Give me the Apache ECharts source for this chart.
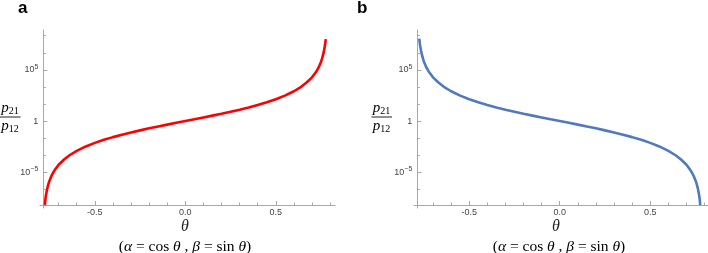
<!DOCTYPE html>
<html><head><meta charset="utf-8">
<script src="https://cdn.jsdelivr.net/npm/echarts@6/dist/echarts.min.js"></script>
<style>html,body{margin:0;padding:0;background:#fff}#c{width:708px;height:253px}</style>
</head><body><div id="c"></div>
<script>
// Panel a: theta vs log10(p21/p12)
const thetaA = [-0.776, -0.773, -0.770, -0.765, -0.760, -0.755, -0.750, -0.740, -0.730, -0.720,
  -0.700, -0.670, -0.640, -0.600, -0.550, -0.500, -0.450, -0.400, -0.350, -0.300,
  -0.250, -0.200, -0.150, -0.100, -0.050, 0, 0.050, 0.100, 0.150, 0.200,
  0.250, 0.300, 0.350, 0.400, 0.450, 0.500, 0.550, 0.600, 0.640, 0.670,
  0.700, 0.720, 0.730, 0.740, 0.750, 0.755, 0.760, 0.765, 0.770, 0.773, 0.776];
const log10RatioA = [-8.20, -7.60, -7.25, -6.75, -6.38, -6.07, -5.80, -5.37, -5.02, -4.74,
  -4.27, -3.76, -3.34, -2.91, -2.48, -2.13, -1.83, -1.57, -1.33, -1.11,
  -0.91, -0.71, -0.53, -0.35, -0.17, 0, 0.17, 0.35, 0.53, 0.71,
  0.91, 1.11, 1.33, 1.57, 1.83, 2.13, 2.48, 2.91, 3.34, 3.76,
  4.27, 4.74, 5.02, 5.37, 5.80, 6.07, 6.38, 6.75, 7.25, 7.60, 8.00];
// Panel b
const thetaB = [-0.776, -0.773, -0.770, -0.765, -0.760, -0.755, -0.750, -0.740, -0.730, -0.720,
  -0.700, -0.670, -0.640, -0.600, -0.550, -0.500, -0.450, -0.400, -0.350, -0.300,
  -0.250, -0.200, -0.150, -0.100, -0.050, 0, 0.050, 0.100, 0.150, 0.200,
  0.250, 0.300, 0.350, 0.400, 0.450, 0.500, 0.550, 0.600, 0.640, 0.670,
  0.700, 0.720, 0.730, 0.740, 0.750, 0.755, 0.760, 0.765, 0.770, 0.773, 0.776];
const log10RatioB = [8.05, 7.60, 7.25, 6.75, 6.38, 6.07, 5.80, 5.37, 5.02, 4.74,
  4.27, 3.76, 3.34, 2.91, 2.48, 2.13, 1.83, 1.57, 1.33, 1.11,
  0.91, 0.71, 0.53, 0.35, 0.17, 0, -0.17, -0.35, -0.53, -0.71,
  -0.91, -1.11, -1.33, -1.57, -1.83, -2.13, -2.48, -2.91, -3.34, -3.76,
  -4.27, -4.74, -5.02, -5.37, -5.80, -6.07, -6.38, -6.75, -7.25, -7.60, -8.20];

const xMajorTicks = [-0.5, 0, 0.5];
const xMajorLabels = ['-0.5', '0.0', '0.5'];
const xMinorTicks = [-0.7, -0.6, -0.4, -0.3, -0.2, -0.1, 0.1, 0.2, 0.3, 0.4, 0.6, 0.7, 0.8];
const yMajorTicks = [-5, 0, 5];
const yMajorLabels = ['{b|10}{s|\u22125}', '{b|1}', '{b|10}{s|5}'];
const yMinorTicks = [-20/3, -10/3, -5/3, 5/3, 10/3, 20/3, 25/3];

const axisColor = '#a8a8a8';
const labelColor = '#444';
const serif = '"Liberation Serif", "DejaVu Serif", serif';
const sans = '"Liberation Sans", Arial, sans-serif';

const panels = [
  {left: 40, width: 295, xmin: -0.803, xmax: 0.827},
  {left: 414, width: 294, xmin: -0.805, xmax: 0.819}
];
const yMin = -8.49, yMax = 8.89;

const xAxes = [], yAxes = [], grids = [];
panels.forEach((p, gi) => {
  grids.push({left: p.left, top: 30, width: p.width, height: 178, containLabel: false});
  xAxes.push({
    gridIndex: gi, type: 'value', position: 'bottom', min: p.xmin, max: p.xmax, offset: -3,
    axisLine: {show: true, onZero: false, lineStyle: {color: axisColor, width: 1}},
    axisTick: {show: true, inside: true, length: 4, lineStyle: {color: axisColor}, customValues: xMajorTicks},
    axisLabel: {show: true, margin: 3, fontSize: 9, color: labelColor, fontFamily: sans, customValues: xMajorTicks,
      formatter: v => xMajorLabels[xMajorTicks.findIndex(t => Math.abs(t - v) < 1e-9)]},
    splitLine: {show: false}
  });
  xAxes.push({
    gridIndex: gi, type: 'value', position: 'bottom', min: p.xmin, max: p.xmax, offset: -3,
    axisLine: {show: false, onZero: false},
    axisTick: {show: true, inside: true, length: 2.5, lineStyle: {color: axisColor}, customValues: xMinorTicks},
    axisLabel: {show: false},
    splitLine: {show: false}
  });
  yAxes.push({
    gridIndex: gi, type: 'value', position: 'left', min: yMin, max: yMax, offset: -3.3,
    axisLine: {show: true, onZero: false, lineStyle: {color: axisColor, width: 1}},
    axisTick: {show: true, inside: true, length: 4, lineStyle: {color: axisColor}, customValues: yMajorTicks},
    axisLabel: {show: true, margin: 5, color: labelColor, fontFamily: sans, customValues: yMajorTicks,
      formatter: v => yMajorLabels[yMajorTicks.findIndex(t => Math.abs(t - v) < 1e-9)],
      rich: {
        b: {fontSize: 9, color: labelColor, fontFamily: sans, verticalAlign: 'middle'},
        s: {fontSize: 7, color: labelColor, fontFamily: sans, verticalAlign: 'bottom', padding: [0, 0, 6, 0]}
      }},
    splitLine: {show: false}
  });
  yAxes.push({
    gridIndex: gi, type: 'value', position: 'left', min: yMin, max: yMax, offset: -3.3,
    axisLine: {show: false, onZero: false},
    axisTick: {show: true, inside: true, length: 2.5, lineStyle: {color: axisColor}, customValues: yMinorTicks},
    axisLabel: {show: false},
    splitLine: {show: false}
  });
});

const fracRich = {
  p: {fontSize: 15, fontStyle: 'italic', fontFamily: serif, color: '#222'},
  s: {fontSize: 10, fontFamily: serif, color: '#222', padding: [6, 0, 0, 0]}
};
const capRich = {
  n: {fontSize: 15.5, fontFamily: serif, color: '#222'},
  i: {fontSize: 15.5, fontFamily: serif, fontStyle: 'italic', color: '#222'}
};
const caption = '{n|(}{i|\u03b1}{n| = cos }{i|\u03b8}{n| , }{i|\u03b2}{n| = sin }{i|\u03b8}{n|)}';

function fraction(cx, cy) {
  return {
    type: 'group', x: cx, y: cy, children: [
      {type: 'line', shape: {x1: -10, y1: 0, x2: 10.5, y2: 0}, style: {stroke: '#222', lineWidth: 1}},
      {type: 'text', x: 0, y: -1, style: {text: '{p|p}{s|21}', rich: fracRich, align: 'center', verticalAlign: 'bottom'}},
      {type: 'text', x: 0, y: 1, style: {text: '{p|p}{s|12}', rich: fracRich, align: 'center', verticalAlign: 'top'}}
    ]
  };
}

const graphic = [
  {type: 'text', left: 18, top: 0, style: {text: 'a', font: 'bold 17px ' + sans, fill: '#000'}},
  {type: 'text', left: 357, top: 0, style: {text: 'b', font: 'bold 17px ' + sans, fill: '#000'}},
  fraction(10, 117),
  fraction(381.5, 117),
  {type: 'text', x: 185, y: 227, style: {text: '\u03b8', font: 'italic 16px ' + serif, fill: '#222', align: 'center', verticalAlign: 'middle'}},
  {type: 'text', x: 556, y: 227, style: {text: '\u03b8', font: 'italic 16px ' + serif, fill: '#222', align: 'center', verticalAlign: 'middle'}},
  {type: 'text', x: 185, y: 246.5, style: {text: caption, rich: capRich, align: 'center', verticalAlign: 'middle'}},
  {type: 'text', x: 559, y: 246.5, style: {text: caption, rich: capRich, align: 'center', verticalAlign: 'middle'}}
];

const chart = echarts.init(document.getElementById('c'), null, {renderer: 'canvas'});
chart.setOption({
  animation: false,
  backgroundColor: '#fff',
  grid: grids,
  xAxis: xAxes,
  yAxis: yAxes,
  graphic: graphic,
  series: [
    {type: 'line', xAxisIndex: 0, yAxisIndex: 0, showSymbol: false, smooth: false, clip: true,
     lineStyle: {color: '#ff0000', width: 2.6}, data: thetaA.map((t, i) => [t, log10RatioA[i]])},
    {type: 'line', xAxisIndex: 2, yAxisIndex: 2, showSymbol: false, smooth: false, clip: true,
     lineStyle: {color: '#5079be', width: 2.6}, data: thetaB.map((t, i) => [t, log10RatioB[i]])}
  ]
});
</script>
</body></html>
